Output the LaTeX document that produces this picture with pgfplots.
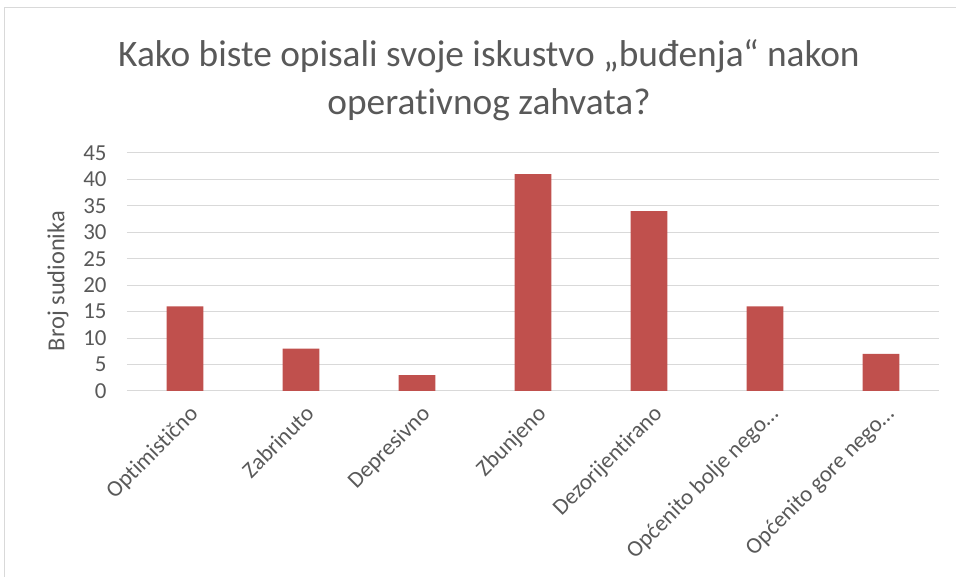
\documentclass[border=0pt]{standalone}
\usepackage{fontspec}
\setmainfont{Carlito}[Ligatures=NoCommon]
\usepackage{pgfplots}
\pgfplotsset{compat=1.18}
\usetikzlibrary{calc}
\definecolor{barred}{HTML}{C0504D}
\definecolor{gridgray}{HTML}{D9D9D9}
\definecolor{txt}{HTML}{595959}
\begin{document}
\begin{tikzpicture}[x=1bp,y=1bp]
\begin{axis}[
  name=ax,
  scale only axis, width=812bp, height=238bp,
  xmin=-0.5, xmax=6.5, ymin=0, ymax=45,
  ytick={0,5,...,45},
  xtick={0,...,6},
  xticklabels={Optimistično,Zabrinuto,Depresivno,Zbunjeno,Dezorijentirano,Općenito bolje nego…,Općenito gore nego…},
  axis line style={draw=none},
  major tick length=0pt,
  ymajorgrids, grid style={gridgray, line width=1bp},
  /pgf/number format/assume math mode=true,
  tick label style={txt, font=\fontsize{23}{23}\selectfont},
  yticklabel style={anchor=east, xshift=-17bp},
  xticklabel style={xshift=3bp, yshift=-8bp, rotate=45, anchor=north east},
  ylabel={Broj sudionika},
  every axis y label/.style={at={(axis description cs:0,0.5)}, xshift=-69bp, yshift=-9bp, rotate=90, anchor=center, txt, font=\fontsize{24.5}{24.5}\selectfont},
  ybar, bar width=36.6bp,
]
\addplot[fill=barred, draw=none] coordinates {(0,16) (1,8) (2,3) (3,41) (4,34) (5,16) (6,7)};
\coordinate (ll) at (rel axis cs:0,0);
\end{axis}
\pgfresetboundingbox
\coordinate (O) at ($(ll)+(-127,-186)$);
\useasboundingbox (O) rectangle ++(956,577);
\draw[gridgray, line width=1bp] ($(O)+(5,0)$) -- ($(O)+(5,569)$) -- ($(O)+(956,569)$);
\node[txt, align=center, font=\fontsize{37.5}{48}\selectfont] at ($(O)+(489,497)$) {Kako biste opisali svoje iskustvo „buđenja“ nakon\\operativnog zahvata?};
\end{tikzpicture}
\end{document}
